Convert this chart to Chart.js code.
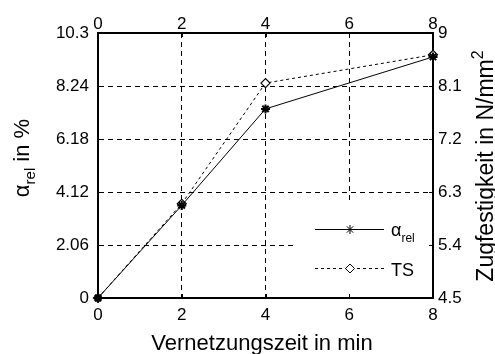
<!DOCTYPE html>
<html>
<head>
<meta charset="utf-8">
<script src="https://cdn.jsdelivr.net/npm/chart.js@4/dist/chart.umd.min.js"></script>
<style>
  html, body { margin: 0; padding: 0; background: #fff; }
  canvas { display: block; }
</style>
</head>
<body>
<canvas id="chart" width="495" height="354"></canvas>
<script>
// crosslinking time (min) vs. relative alpha and tensile strength
const times = [0, 2, 4, 8];
const alphaRel = [0, 3.6, 7.35, 9.37];
const tensile = [4.5, 6.1, 8.15, 8.63];

const xTicks = [0, 2, 4, 6, 8];
const leftTicks = [0, 2.06, 4.12, 6.18, 8.24, 10.3];
const rightTicks = [4.5, 5.4, 6.3, 7.2, 8.1, 9];

const FONT = '"Liberation Sans", Arial, sans-serif';
const tickFont = { family: FONT, size: 17 };
const gridDash = [5, 4];

function fixedTicks(list) {
  return scale => { scale.ticks = list.map(v => ({ value: v })); };
}

// draws a line of text made of pieces with their own size / baseline shift
function drawRich(ctx, x, y, angle, parts) {
  ctx.save();
  ctx.translate(x, y);
  ctx.rotate(angle);
  ctx.textBaseline = 'alphabetic';
  ctx.textAlign = 'left';
  let total = 0;
  parts.forEach(p => {
    ctx.font = p.size + 'px ' + FONT;
    p.w = ctx.measureText(p.text).width;
    total += p.w;
  });
  let cx = -total / 2;
  parts.forEach(p => {
    ctx.font = p.size + 'px ' + FONT;
    ctx.fillText(p.text, cx, p.shift || 0);
    cx += p.w;
  });
  ctx.restore();
}

function drawRichLeft(ctx, x, y, parts) {
  ctx.textBaseline = 'alphabetic';
  ctx.textAlign = 'left';
  let cx = x;
  parts.forEach(p => {
    ctx.font = p.size + 'px ' + FONT;
    ctx.fillText(p.text, cx, y + (p.shift || 0));
    cx += ctx.measureText(p.text).width;
  });
}

function drawLegendBox(chart) {
  const ctx = chart.ctx;
  ctx.save();
  ctx.fillStyle = '#fff';
  ctx.fillRect(295, 203, 137, 87);

  ctx.strokeStyle = '#000';
  ctx.lineWidth = 1;
  // alpha entry: solid line with star
  ctx.beginPath();
  ctx.moveTo(315, 229.5);
  ctx.lineTo(384, 229.5);
  ctx.stroke();
  Chart.helpers.drawPoint(ctx, { pointStyle: 'star', radius: 4.5, borderWidth: 2 }, 350, 229.5);

  // TS entry: dashed line with diamond
  ctx.setLineDash([3, 3]);
  ctx.beginPath();
  ctx.moveTo(315, 268.5);
  ctx.lineTo(384, 268.5);
  ctx.stroke();
  ctx.setLineDash([]);
  ctx.fillStyle = '#fff';
  Chart.helpers.drawPoint(ctx, { pointStyle: 'rectRot', radius: 4.5, borderWidth: 1.2 }, 350, 268.5);

  ctx.fillStyle = '#000';
  drawRichLeft(ctx, 391, 236, [{ text: 'α', size: 18 }, { text: 'rel', size: 12, shift: 6 }]);
  drawRichLeft(ctx, 391, 276, [{ text: 'TS', size: 18 }]);
  ctx.restore();
}

function drawInwardTicks(chart) {
  const { ctx, chartArea: a, scales } = chart;
  const len = 4;
  ctx.save();
  ctx.strokeStyle = '#000';
  ctx.lineWidth = 1;
  ctx.beginPath();
  xTicks.forEach(v => {
    const px = Math.round(scales.x.getPixelForValue(v)) + 0.5;
    ctx.moveTo(px, a.bottom); ctx.lineTo(px, a.bottom - len);
    ctx.moveTo(px, a.top); ctx.lineTo(px, a.top + len);
  });
  leftTicks.forEach(v => {
    const py = Math.round(scales.y.getPixelForValue(v)) + 0.5;
    ctx.moveTo(a.left, py); ctx.lineTo(a.left + len, py);
  });
  rightTicks.forEach(v => {
    const py = Math.round(scales.y2.getPixelForValue(v)) + 0.5;
    ctx.moveTo(a.right, py); ctx.lineTo(a.right - len, py);
  });
  ctx.stroke();
  ctx.restore();
}

function drawAxisTitles(chart) {
  const ctx = chart.ctx;
  ctx.save();
  ctx.fillStyle = '#000';
  drawRich(ctx, 262, 350, 0, [{ text: 'Vernetzungszeit in min', size: 22 }]);
  drawRich(ctx, 29, 158, -Math.PI / 2, [
    { text: 'α', size: 22 },
    { text: 'rel', size: 15, shift: 6 },
    { text: ' in %', size: 22 }
  ]);
  drawRich(ctx, 493, 166, -Math.PI / 2, [
    { text: 'Zugfestigkeit in N/mm', size: 23 },
    { text: '2', size: 16, shift: -10 }
  ]);
  ctx.restore();
}

const frame = {
  id: 'frame',
  afterDatasetsDraw(chart) { drawLegendBox(chart); },
  afterDraw(chart) {
    drawInwardTicks(chart);
    drawAxisTitles(chart);
  }
};

new Chart(document.getElementById('chart'), {
  type: 'line',
  data: {
    datasets: [
      {
        label: 'TS',
        data: times.map((t, i) => ({ x: t, y: tensile[i] })),
        yAxisID: 'y2',
        order: 2,
        borderColor: '#000',
        borderWidth: 1,
        borderDash: [3, 3],
        pointStyle: 'rectRot',
        pointRadius: 4.5,
        pointBorderWidth: 1.2,
        pointBackgroundColor: '#fff',
        pointBorderColor: '#000',
        tension: 0,
        clip: false
      },
      {
        label: 'α rel',
        data: times.map((t, i) => ({ x: t, y: alphaRel[i] })),
        yAxisID: 'y',
        order: 1,
        borderColor: '#000',
        borderWidth: 1,
        pointStyle: 'star',
        pointRadius: 4.5,
        pointBorderWidth: 2,
        pointBackgroundColor: '#000',
        pointBorderColor: '#000',
        tension: 0,
        clip: false
      }
    ]
  },
  options: {
    responsive: false,
    animation: false,
    events: [],
    layout: { padding: 0 },
    plugins: { legend: { display: false }, tooltip: { enabled: false } },
    scales: {
      x: {
        type: 'linear', position: 'bottom', min: 0, max: 8,
        afterBuildTicks: fixedTicks(xTicks),
        afterFit: s => { s.height = 56; },
        grid: { color: '#000', lineWidth: 1, drawTicks: false },
        border: { display: true, color: '#000', width: 2, dash: gridDash },
        ticks: { color: '#000', font: tickFont, padding: 7, maxRotation: 0, callback: v => String(v) }
      },
      x2: {
        type: 'linear', position: 'top', min: 0, max: 8,
        afterBuildTicks: fixedTicks(xTicks),
        afterFit: s => { s.height = 33; },
        grid: { display: false, drawTicks: false },
        border: { display: true, color: '#000', width: 2 },
        ticks: { color: '#000', font: tickFont, padding: -2, maxRotation: 0, callback: v => String(v) }
      },
      y: {
        type: 'linear', position: 'left', min: 0, max: 10.3,
        afterBuildTicks: fixedTicks(leftTicks),
        afterFit: s => { s.width = 98; },
        grid: { color: '#000', lineWidth: 1, drawTicks: false },
        border: { display: true, color: '#000', width: 2, dash: gridDash },
        ticks: { color: '#000', font: tickFont, padding: 9, callback: v => String(v) }
      },
      y2: {
        type: 'linear', position: 'right', min: 4.5, max: 9,
        afterBuildTicks: fixedTicks(rightTicks),
        afterFit: s => { s.width = 62; },
        grid: { display: false, drawTicks: false },
        border: { display: true, color: '#000', width: 2 },
        ticks: { color: '#000', font: tickFont, padding: 5, callback: v => String(v) }
      }
    }
  },
  plugins: [frame]
});
</script>
</body>
</html>
